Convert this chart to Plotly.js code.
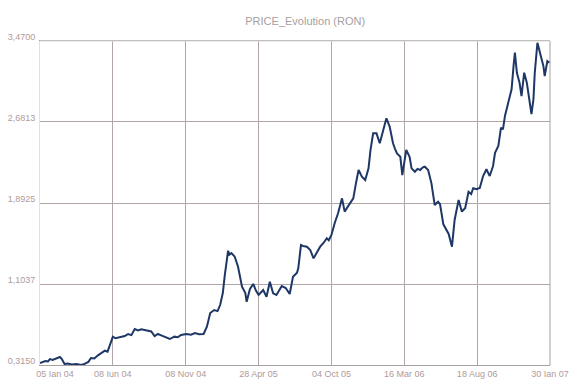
<!DOCTYPE html>
<html>
<head>
<meta charset="utf-8">
<script src="https://cdn.plot.ly/plotly-3.0.1.min.js"></script>
<style>html,body{margin:0;padding:0;background:#fff;}#chart{width:576px;height:380px;}</style>
</head>
<body>
<div id="chart"></div>
<script>
// trading-day index (0 = 05 Ian 04, 770 = 30 Ian 07)
var day = [0,4,8,12,15,19,23,27,30,33,37,42,48,55,62,66,69,73,77,82,88,93,98,102,105,110,114,118,123,128,133,138,143,148,153,158,163,168,173,178,183,188,196,203,208,213,221,228,234,240,247,252,257,263,268,272,276,279,284,286,289,294,299,305,310,312,317,322,326,330,337,342,347,352,357,361,365,371,377,382,388,390,394,397,403,408,413,418,423,428,433,436,440,445,450,456,460,464,468,473,477,481,486,491,496,499,503,508,513,518,523,528,533,536,539,544,547,553,558,561,566,570,574,578,581,586,591,594,596,601,604,609,614,617,622,626,632,637,642,647,651,654,659,664,669,674,679,684,687,692,696,699,702,707,712,715,717,720,724,727,731,735,740,742,745,747,751,755,760,762,766,769];
var price = [0.334,0.344,0.354,0.350,0.373,0.365,0.378,0.384,0.393,0.373,0.325,0.330,0.320,0.325,0.315,0.322,0.334,0.345,0.383,0.378,0.412,0.430,0.454,0.445,0.493,0.591,0.575,0.583,0.590,0.597,0.617,0.606,0.665,0.651,0.662,0.656,0.650,0.641,0.597,0.617,0.603,0.591,0.568,0.591,0.585,0.607,0.617,0.610,0.627,0.615,0.617,0.688,0.821,0.850,0.840,0.899,1.016,1.191,1.428,1.390,1.405,1.370,1.272,1.077,1.016,0.931,1.055,1.104,1.040,0.997,1.045,0.980,1.126,1.013,0.997,1.040,1.084,1.065,1.006,1.175,1.214,1.259,1.483,1.474,1.467,1.435,1.354,1.410,1.467,1.503,1.549,1.530,1.581,1.698,1.792,1.938,1.808,1.850,1.890,1.938,2.084,2.214,2.149,2.116,2.230,2.409,2.571,2.571,2.474,2.603,2.717,2.635,2.474,2.420,2.376,2.343,2.165,2.409,2.343,2.230,2.197,2.225,2.214,2.240,2.246,2.214,2.084,1.954,1.873,1.905,1.880,1.685,1.630,1.591,1.467,1.727,1.922,1.808,1.844,2.002,1.980,2.036,2.026,2.039,2.155,2.221,2.155,2.253,2.382,2.448,2.626,2.610,2.740,2.869,3.000,3.227,3.356,3.161,3.064,2.934,3.161,3.064,2.805,2.759,2.902,3.161,3.453,3.356,3.227,3.129,3.275,3.259];
var xTickDays = [0,110,220,330,440,550,660,770];
var xTickLabels = ['\u00a0\u00a0\u00a0\u00a0\u00a0\u00a0\u00a0\u00a0\u00a0\u00a0\u00a0\u00a005 Ian 04','08 Iun 04','08 Nov 04','28 Apr 05','04 Oct 05','16 Mar 06','18 Aug 06','30 Ian 07'];
var yTickVals = [0.3150,1.1037,1.8925,2.6813,3.4700];
var yTickLabels = ['0,3150','1,1037','1,8925','2,6813','3,4700'];

var font = 'Liberation Sans, Arial, sans-serif';
var trace = {
  x: day, y: price, type: 'scatter', mode: 'lines',
  line: {color: '#1e3766', width: 2}, hoverinfo: 'skip'
};
var layout = {
  width: 576, height: 380,
  margin: {l: 40, r: 26, t: 41, b: 15, pad: 0},
  paper_bgcolor: '#ffffff', plot_bgcolor: '#ffffff',
  showlegend: false,
  title: {text: 'PRICE_Evolution (RON)', x: 0.52, xref: 'paper', y: 0.955, yref: 'container', xanchor: 'center',
          font: {family: font, size: 11, color: '#a8a0a0'}},
  xaxis: {range: [0, 770], tickvals: xTickDays, ticktext: xTickLabels, showgrid: true,
          gridcolor: '#b0a6a6', gridwidth: 1, zeroline: false, showline: true, linecolor: '#a8a0a0', mirror: true,
          ticks: '', tickfont: {family: font, size: 9, color: '#b09a9a'}, automargin: false, ticklabelstandoff: 0},
  yaxis: {range: [0.315, 3.47], tickvals: yTickVals, ticktext: yTickLabels, showgrid: true,
          gridcolor: '#b0a6a6', gridwidth: 1, zeroline: false, showline: true, linecolor: '#ecdcdc',
          ticks: '', tickfont: {family: font, size: 9, color: '#b09a9a'}, automargin: false,
          ticklabelshift: -4, ticklabelstandoff: 2},
  shapes: [
    {type: 'line', xref: 'paper', yref: 'paper', x0: 1, x1: 1, y0: 0, y1: 1, line: {color: '#a8a0a0', width: 1}, layer: 'below'},
    {type: 'line', xref: 'paper', yref: 'paper', x0: 0, x1: 1, y0: 1, y1: 1, line: {color: '#dcdcdc', width: 1}, layer: 'above'}
  ]
};
Plotly.newPlot('chart', [trace], layout, {staticPlot: true, displayModeBar: false});
</script>
</body>
</html>
